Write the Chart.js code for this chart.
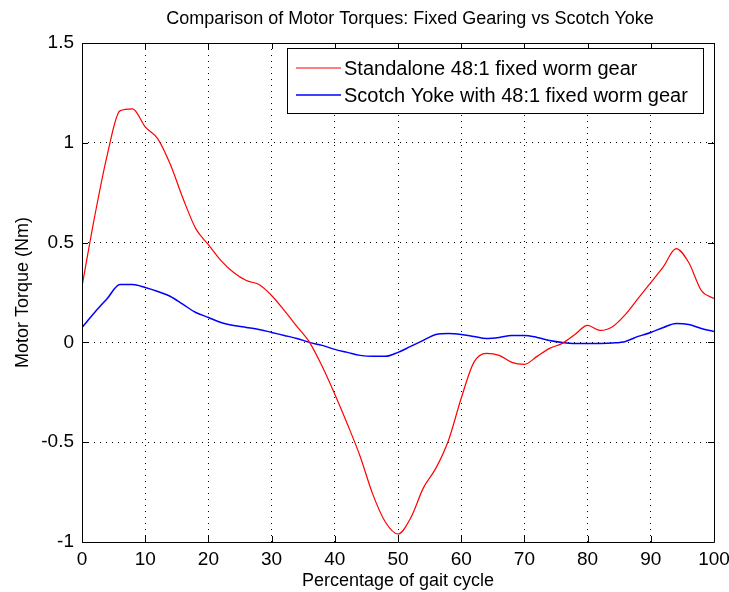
<!DOCTYPE html>
<html>
<head>
<meta charset="utf-8">
<script src="https://cdn.jsdelivr.net/npm/chart.js@4/dist/chart.umd.min.js"></script>
<style>
  html, body { margin: 0; padding: 0; background: #ffffff; }
  #wrap { width: 729px; height: 592px; }
</style>
</head>
<body>
<div id="wrap"><canvas id="grafico"></canvas></div>
<script>
// percentage of gait cycle
var gaitPct = [0, 2, 4, 6, 8, 10, 12, 14, 16, 18, 20, 22, 24, 26, 28, 30, 32, 34, 36, 38, 40,
    42, 44, 46, 48, 50, 52, 54, 56, 58, 60, 62, 64, 66, 68, 70, 72, 74, 76, 78, 80,
    82, 84, 86, 88, 90, 92, 94, 96, 98, 100];

// Standalone 48:1 fixed worm gear (Nm)
var fixedTorque = [0.28, 0.63, 0.94, 1.16, 1.17, 1.08, 1.02, 0.89, 0.72, 0.57, 0.49,
    0.41, 0.35, 0.31, 0.29, 0.235, 0.16, 0.08, 0.0, -0.12, -0.26,
    -0.41, -0.57, -0.76, -0.9, -0.96, -0.88, -0.73, -0.63, -0.49, -0.28,
    -0.1, -0.055, -0.065, -0.1, -0.11, -0.07, -0.03, -0.005, 0.04, 0.085,
    0.06, 0.08, 0.14, 0.22, 0.3, 0.38, 0.47, 0.4, 0.26, 0.22];

// Scotch Yoke with 48:1 fixed worm gear (Nm)
var yokeTorque = [0.075, 0.15, 0.22, 0.29, 0.29, 0.275, 0.255, 0.23, 0.19, 0.15, 0.125,
    0.1, 0.085, 0.075, 0.065, 0.05, 0.035, 0.02, 0.0, -0.015, -0.035,
    -0.05, -0.065, -0.07, -0.07, -0.05, -0.02, 0.01, 0.04, 0.045, 0.04,
    0.03, 0.02, 0.025, 0.035, 0.035, 0.025, 0.01, 0.0, -0.005, -0.005,
    -0.005, -0.003, 0.005, 0.03, 0.05, 0.075, 0.095, 0.09, 0.07, 0.055];

var seriesLabels = ['Standalone 48:1 fixed worm gear', 'Scotch Yoke with 48:1 fixed worm gear'];
var xTicks = [0, 10, 20, 30, 40, 50, 60, 70, 80, 90, 100];
var yTicks = [-1, -0.5, 0, 0.5, 1, 1.5];
var titulo = 'Comparison of Motor Torques: Fixed Gearing vs Scotch Yoke';

var fonte = "'Liberation Sans', Arial, sans-serif";

function pares(ys) {
    return gaitPct.map(function (x, i) { return { x: x, y: ys[i] }; });
}

// MATLAB style box, inward ticks, title and legend
var moldura = {
    id: 'moldura',
    afterDraw: function (chart) {
        var ctx = chart.ctx;
        var a = chart.chartArea;
        var sx = chart.scales.x, sy = chart.scales.y;
        ctx.save();
        ctx.strokeStyle = '#000';
        ctx.lineWidth = 1;
        ctx.setLineDash([]);
        ctx.beginPath();
        ctx.rect(Math.round(a.left) + 0.5, Math.round(a.top) + 0.5,
            Math.round(a.right - a.left), Math.round(a.bottom - a.top));
        xTicks.forEach(function (v) {
            var px = Math.round(sx.getPixelForValue(v)) + 0.5;
            ctx.moveTo(px, a.bottom); ctx.lineTo(px, a.bottom - 6);
            ctx.moveTo(px, a.top); ctx.lineTo(px, a.top + 6);
        });
        yTicks.forEach(function (v) {
            var py = Math.round(sy.getPixelForValue(v)) + 0.5;
            ctx.moveTo(a.left, py); ctx.lineTo(a.left + 6, py);
            ctx.moveTo(a.right, py); ctx.lineTo(a.right - 6, py);
        });
        ctx.stroke();

        // title
        ctx.fillStyle = '#000';
        ctx.font = '18px ' + fonte;
        ctx.textAlign = 'center';
        ctx.textBaseline = 'middle';
        ctx.fillText(titulo, 410, 19);

        // legend
        var lx = 287, ly = 48, lw = 416, lh = 65;
        ctx.fillStyle = '#fff';
        ctx.fillRect(lx, ly, lw, lh);
        ctx.strokeRect(lx + 0.5, ly + 0.5, lw, lh);
        ctx.font = '20px ' + fonte;
        ctx.textAlign = 'left';
        chart.data.datasets.forEach(function (ds, i) {
            var yy = ly + 20 + i * 27;
            ctx.strokeStyle = ds.borderColor;
            ctx.lineWidth = ds.borderWidth;
            ctx.beginPath();
            ctx.moveTo(lx + 9, yy); ctx.lineTo(lx + 54, yy);
            ctx.stroke();
            ctx.fillStyle = '#000';
            ctx.fillText(ds.label, lx + 57, yy + 1);
        });
        ctx.restore();
    }
};

var ctx = document.getElementById('grafico').getContext('2d');
var myChart = new Chart(ctx, {
    type: 'line',
    data: {
        datasets: [{
            label: seriesLabels[0],
            data: pares(fixedTorque),
            borderColor: '#ff0000',
            borderWidth: 1.2,
            pointRadius: 0,
            cubicInterpolationMode: 'monotone'
        }, {
            label: seriesLabels[1],
            data: pares(yokeTorque),
            borderColor: '#0000ff',
            borderWidth: 1.5,
            pointRadius: 0,
            cubicInterpolationMode: 'monotone'
        }]
    },
    options: {
        responsive: true,
        maintainAspectRatio: false,
        animation: false,
        layout: { padding: { top: 43, right: 15, left: 0, bottom: 0 } },
        scales: {
            x: {
                type: 'linear',
                min: 0,
                max: 100,
                afterBuildTicks: function (axis) {
                    axis.ticks = xTicks.map(function (v) { return { value: v }; });
                },
                afterFit: function (axis) {
                    axis.height = 50;
                    axis.paddingLeft = 0;
                    axis.paddingRight = 0;
                },
                ticks: {
                    font: { family: fonte, size: 19 },
                    color: '#000',
                    padding: 6,
                    maxRotation: 0,
                    callback: function (value) { return String(value); }
                },
                grid: { color: '#000', lineWidth: 1, drawTicks: false },
                border: { display: false, dash: [1, 5] },
                title: {
                    display: true,
                    text: 'Percentage of gait cycle',
                    font: { family: fonte, size: 18 },
                    color: '#000',
                    padding: { top: 0, bottom: 0 }
                }
            },
            y: {
                type: 'linear',
                min: -1,
                max: 1.5,
                afterBuildTicks: function (axis) {
                    axis.ticks = yTicks.map(function (v) { return { value: v }; });
                },
                afterFit: function (axis) {
                    axis.width = 82;
                    axis.paddingTop = 0;
                    axis.paddingBottom = 0;
                },
                ticks: {
                    font: { family: fonte, size: 19 },
                    color: '#000',
                    padding: 8,
                    callback: function (value) { return String(value); }
                },
                grid: { color: '#000', lineWidth: 1, drawTicks: false },
                border: { display: false, dash: [1, 5] },
                title: {
                    display: true,
                    text: 'Motor Torque (Nm)',
                    font: { family: fonte, size: 18 },
                    color: '#000',
                    padding: { top: 12, bottom: 0 }
                }
            }
        },
        plugins: {
            legend: { display: false },
            tooltip: { enabled: false },
            title: { display: false }
        }
    },
    plugins: [moldura]
});
</script>
</body>
</html>
